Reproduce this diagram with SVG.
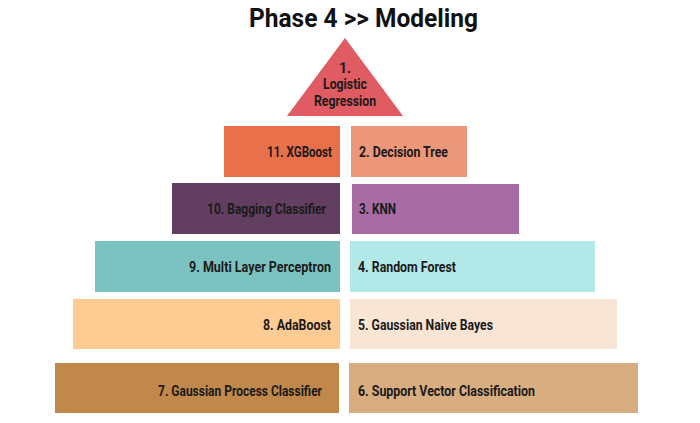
<svg xmlns="http://www.w3.org/2000/svg" width="700" height="423" viewBox="0 0 700 423">
<style>
  .t{font-family:Roboto,"Liberation Sans",sans-serif;font-weight:700;font-size:14.5px;fill:#1a1a1a}
  .title{font-family:Roboto,"Liberation Sans",sans-serif;font-weight:700;font-size:25.5px;fill:#111}
</style>
<rect width="700" height="423" fill="#fff"/>
<text class="title" x="249" y="27" textLength="229" lengthAdjust="spacingAndGlyphs">Phase 4 &gt;&gt; Modeling</text>
<g id="n1">
  <polygon points="345,38 403,116 287,116" fill="#E05B62"/>
  <text class="t" x="345" y="73" text-anchor="middle" style="font-size:14px">1.</text>
  <text class="t" x="345" y="89" text-anchor="middle" style="font-size:14px" textLength="44" lengthAdjust="spacingAndGlyphs">Logistic</text>
  <text class="t" x="345" y="106" text-anchor="middle" style="font-size:14px" textLength="62" lengthAdjust="spacingAndGlyphs">Regression</text>
</g>
<g id="n11"><rect x="224" y="126" width="116" height="51" fill="#E8704A"/>
  <text class="t" x="267" y="157" textLength="65" lengthAdjust="spacingAndGlyphs">11. XGBoost</text></g>
<g id="n2"><rect x="351" y="126" width="116" height="51" fill="#EC967A"/>
  <text class="t" x="359" y="157" textLength="89" lengthAdjust="spacingAndGlyphs">2. Decision Tree</text></g>
<g id="n10"><rect x="172" y="183" width="168" height="51" fill="#623F60"/>
  <text class="t" x="207" y="214" textLength="119" lengthAdjust="spacingAndGlyphs">10. Bagging Classifier</text></g>
<g id="n3"><rect x="352" y="184" width="167" height="50" fill="#A66CA3"/>
  <text class="t" x="359" y="214" textLength="37" lengthAdjust="spacingAndGlyphs">3. KNN</text></g>
<g id="n9"><rect x="95" y="241" width="245" height="51" fill="#7BC3C1"/>
  <text class="t" x="189" y="272" textLength="142" lengthAdjust="spacingAndGlyphs">9. Multi Layer Perceptron</text></g>
<g id="n4"><rect x="350" y="241" width="245" height="51" fill="#B2E8E7"/>
  <text class="t" x="358" y="272" textLength="98" lengthAdjust="spacingAndGlyphs">4. Random Forest</text></g>
<g id="n8"><rect x="73" y="299" width="267" height="50" fill="#FECB93"/>
  <text class="t" x="263" y="330" textLength="68" lengthAdjust="spacingAndGlyphs">8. AdaBoost</text></g>
<g id="n5"><rect x="350" y="299" width="267" height="50" fill="#F9E5D4"/>
  <text class="t" x="358" y="330" textLength="135" lengthAdjust="spacingAndGlyphs">5. Gaussian Naive Bayes</text></g>
<g id="n7"><rect x="55" y="363" width="284" height="50" fill="#C1884B"/>
  <text class="t" x="158" y="396" textLength="164" lengthAdjust="spacingAndGlyphs">7. Gaussian Process Classifier</text></g>
<g id="n6"><rect x="349" y="363" width="289" height="50" fill="#D8AD80"/>
  <text class="t" x="358" y="396" textLength="177" lengthAdjust="spacingAndGlyphs">6. Support Vector Classification</text></g>
<g id="connectors"></g>
</svg>
